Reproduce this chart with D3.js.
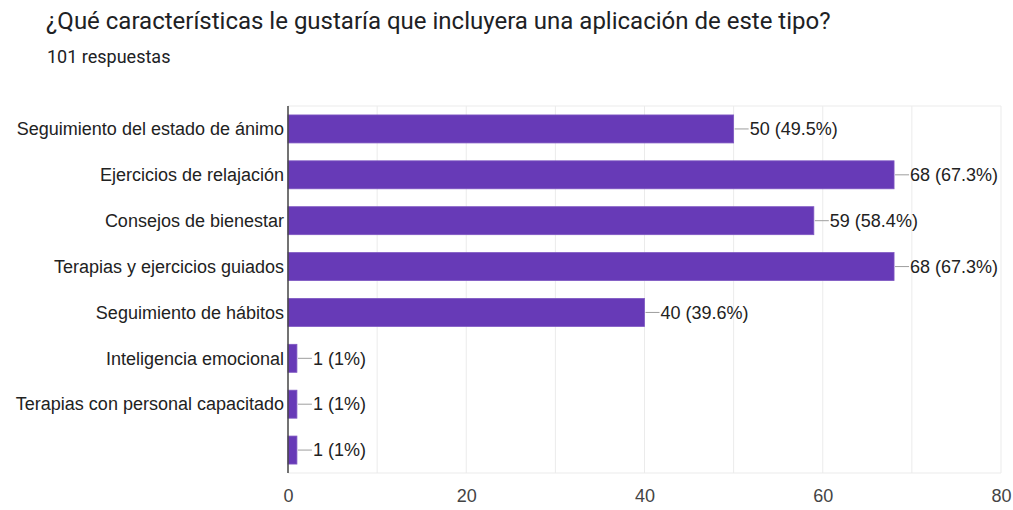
<!DOCTYPE html>
<html>
<head>
<meta charset="utf-8">
<script src="https://cdn.jsdelivr.net/npm/d3@7"></script>
<style>
  body { margin: 0; background: #fff; }
</style>
</head>
<body>
<div id="chart"></div>
<script>
(function() {
  var categories = [
    "Seguimiento del estado de ánimo",
    "Ejercicios de relajación",
    "Consejos de bienestar",
    "Terapias y ejercicios guiados",
    "Seguimiento de hábitos",
    "Inteligencia emocional",
    "Terapias con personal capacitado",
    ""
  ]
  var counts = [50, 68, 59, 68, 40, 1, 1, 1]
  var percents = ["49.5%", "67.3%", "58.4%", "67.3%", "39.6%", "1%", "1%", "1%"]
  var ticks = [0, 20, 40, 60, 80]
  var gridTicks = [10, 20, 30, 40, 50, 60, 70, 80]

  var rows = categories.map(function(c, i) {
    return { name: c, key: i, count: counts[i], pct: percents[i] }
  })

  var margin = { top: 106, left: 288, right: 12, bottom: 37 }

  var svg = d3.select("#chart")
      .append("svg")
      .attr("width", 1013)
      .attr("height", 510)

  svg.append("text")
      .text("¿Qué características le gustaría que incluyera una aplicación de este tipo?")
      .attr("x", 46)
      .attr("y", 29)
      .attr("font-family", "Roboto, sans-serif")
      .attr("font-size", "24px")
      .attr("fill", "#202124")

  svg.append("text")
      .text("101 respuestas")
      .attr("x", 47)
      .attr("y", 63)
      .attr("font-family", "Roboto, sans-serif")
      .attr("font-size", "18px")
      .attr("fill", "#202124")

  var g = svg.append("g")
      .attr("transform", "translate(" + margin.left + "," + margin.top + ")")

  var xScale = d3.scaleLinear()
    .domain([0, 80])
    .range([0, 713])

  var yScale = d3.scaleBand()
    .domain(rows.map(function(d) { return d.key }))
    .range([0, 367])
    .paddingInner(0.39)
    .paddingOuter(0.195)

  // grid
  g.selectAll(".grid")
    .data(gridTicks)
    .enter().append("line")
    .attr("x1", function(d) { return xScale(d) })
    .attr("x2", function(d) { return xScale(d) })
    .attr("y1", 0)
    .attr("y2", 367)
    .attr("stroke", "#ebebeb")
    .attr("stroke-width", 1)

  g.append("line")
    .attr("x1", 0).attr("x2", xScale(80))
    .attr("y1", 0).attr("y2", 0)
    .attr("stroke", "#ebebeb")
  g.append("line")
    .attr("x1", 0).attr("x2", xScale(80))
    .attr("y1", 367).attr("y2", 367)
    .attr("stroke", "#ebebeb")

  // bars
  g.selectAll(".bar")
    .data(rows)
    .enter().append("rect")
    .attr("x", 0)
    .attr("y", function(d) { return yScale(d.key) })
    .attr("width", function(d) { return xScale(d.count) })
    .attr("height", yScale.bandwidth())
    .attr("fill", "#673ab7")
    .attr("stroke", "#7e57c2")
    .attr("stroke-width", 0.8)

  // leader lines
  g.selectAll(".leader")
    .data(rows)
    .enter().append("line")
    .attr("x1", function(d) { return xScale(d.count) + 1 })
    .attr("x2", function(d) { return xScale(d.count) + 15 })
    .attr("y1", function(d) { return yScale(d.key) + yScale.bandwidth() / 2 })
    .attr("y2", function(d) { return yScale(d.key) + yScale.bandwidth() / 2 })
    .attr("stroke", "#9e9e9e")
    .attr("stroke-width", 1)

  g.selectAll(".value")
    .data(rows)
    .enter().append("text")
    .text(function(d) { return d.count + " (" + d.pct + ")" })
    .attr("x", function(d) { return xScale(d.count) + 16 })
    .attr("y", function(d) { return yScale(d.key) + yScale.bandwidth() / 2 })
    .attr("dy", "0.35em")
    .attr("font-family", "'Liberation Sans', Arial, sans-serif")
    .attr("font-size", "18px")
    .attr("fill", "#222")

  // category labels
  g.selectAll(".cat")
    .data(rows)
    .enter().append("text")
    .text(function(d) { return d.name })
    .attr("x", -4)
    .attr("y", function(d) { return yScale(d.key) + yScale.bandwidth() / 2 })
    .attr("dy", "0.35em")
    .attr("text-anchor", "end")
    .attr("font-family", "'Liberation Sans', Arial, sans-serif")
    .attr("font-size", "18px")
    .attr("fill", "#222")

  // axis line
  g.append("line")
    .attr("x1", 0).attr("x2", 0)
    .attr("y1", 0).attr("y2", 367)
    .attr("stroke", "#444")
    .attr("stroke-width", 1.5)

  // x tick labels
  var xAxis = d3.axisBottom(xScale)
    .tickValues(ticks)
    .tickSize(0)
    .tickPadding(16)

  var ax = g.append("g")
    .attr("transform", "translate(0,367)")
    .call(xAxis)
  ax.select(".domain").remove()
  ax.selectAll("text")
    .attr("font-family", "'Liberation Sans', Arial, sans-serif")
    .attr("font-size", "18px")
    .attr("fill", "#444")
})();
</script>
</body>
</html>
